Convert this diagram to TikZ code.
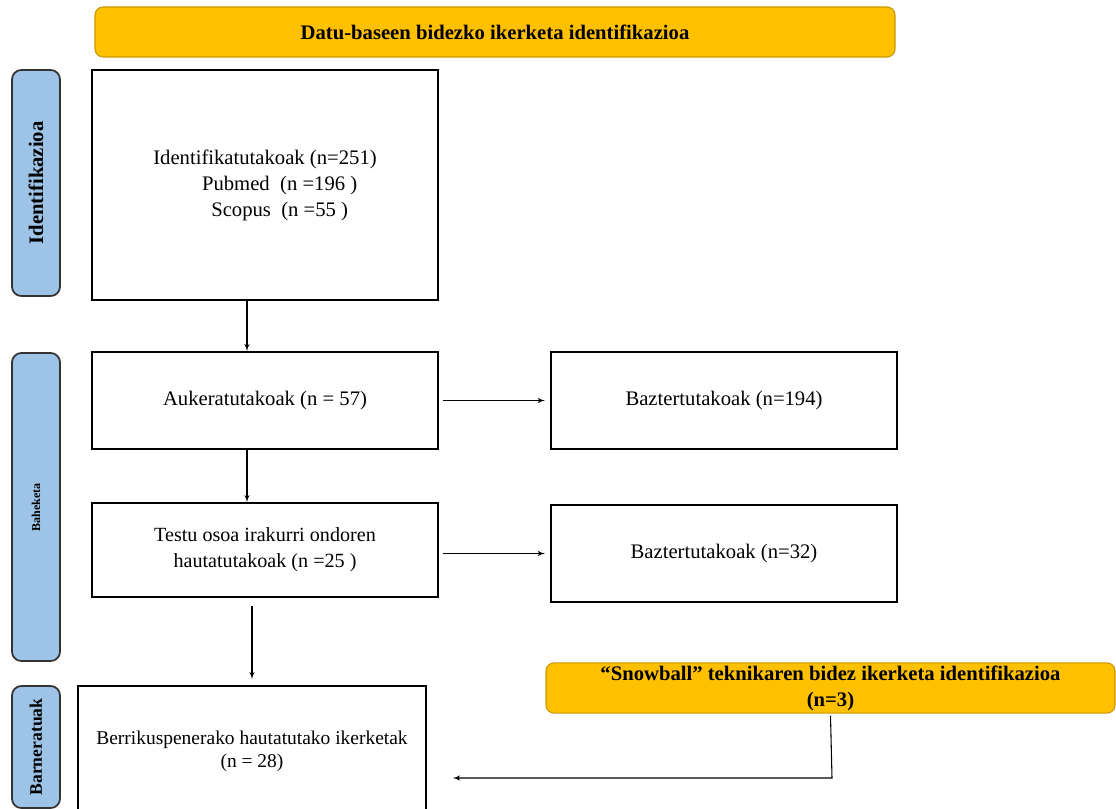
\documentclass[tikz,border=0pt]{standalone}
\usepackage{fontspec}
\setmainfont{Liberation Serif}
\usepackage{xcolor}
\usepackage{tikz}
\usetikzlibrary{positioning}
\usetikzlibrary{arrows}
\definecolor{headorange}{HTML}{FFC000}
\definecolor{headline}{HTML}{C99700}
\definecolor{sideblue}{HTML}{9DC3E6}
\tikzset{edge/.style = {->,> = latex', line width=0.8pt}}

\begin{document}
\begin{tikzpicture}[x=0.75pt,y=-0.75pt,
    main node/.style={rectangle,draw,line width=1.3pt,align=center,inner sep=2pt,
        font=\fontsize{15.5}{19.5}\selectfont},
    head node/.style={rectangle,rounded corners=6pt,draw=headline,fill=headorange,line width=0.8pt,
        align=center,inner sep=2pt,font=\bfseries\fontsize{15.5}{19.5}\selectfont},
    side node/.style={rectangle,rounded corners=7pt,draw=black!80,fill=sideblue,line width=1.3pt,
        rotate=90,minimum height=36pt,inner sep=0pt,font=\bfseries}]
            \useasboundingbox (0,0) rectangle (1116,809);
            \clip (0,0) rectangle (1116,809);

            % phases at the left
            \node[side node,minimum width=169.5pt,font=\bfseries\fontsize{15.5}{19}\selectfont] (ident) at (36,183) {Identifikazioa};
            \node[side node,minimum width=231pt,font=\bfseries\fontsize{9}{11}\selectfont] (bahe) at (36,507) {Baheketa};
            \node[side node,minimum width=91.5pt,font=\bfseries\fontsize{13.2}{16}\selectfont] (barne) at (36,747) {Barneratuak};

            % headers
            \node[head node,minimum width=600pt,minimum height=37.5pt] (datu) at (495,32) {Datu-baseen bidezko ikerketa identifikazioa};
            \node[head node,minimum width=426.75pt,minimum height=37.5pt] (snow) at (830.5,688) {“Snowball” teknikaren bidez ikerketa identifikazioa\\(n=3)};

            % boxes
            \node[main node,minimum width=259.5pt,minimum height=172.5pt] (1) at (265,185)
                {\vspace*{-4pt}Identifikatutakoak (n=251)\\\hspace*{22pt}Pubmed~ (n =196 )\\\hspace*{22pt}Scopus~ (n =55 )};
            \node[main node,minimum width=259.5pt,minimum height=72.75pt] (2) at (265,400.5) {Aukeratutakoak (n = 57)};
            \node[main node,minimum width=259.5pt,minimum height=72.75pt] (3) at (724,400.5) {Baztertutakoak (n=194)};
            \node[main node,minimum width=259.5pt,minimum height=70.5pt,font=\fontsize{15.1}{19.5}\selectfont] (4) at (265,550) {Testu osoa irakurri ondoren\\hautatutakoak (n =25 )};
            \node[main node,minimum width=259.5pt,minimum height=72.75pt] (5) at (724,553.5) {Baztertutakoak (n=32)};
            \node[main node,minimum width=261pt,minimum height=97.5pt,font=\fontsize{14.6}{17}\selectfont] (6) at (252,751) {Berrikuspenerako hautatutako ikerketak\\(n = 28)};

            \coordinate (turn) at (832,778);

            \draw[edge] ([xshift=-13.5pt]1.south) -- ([xshift=-13.5pt]2.north);
            \draw[edge] ([xshift=-13.5pt]2.south) -- ([xshift=-13.5pt]4.north);
            \draw[edge,shorten <=3pt,shorten >=4pt] (2) -- (3);
            \draw[edge,shorten <=3pt,shorten >=4pt] (4.east |- 5.west) -- (5.west);
            \draw[edge,shorten <=6pt,shorten >=4.5pt] (4.south -| 6.north) -- (6.north);
            \draw[edge,shorten >=19.5pt] (snow.south) ++(0,2) -- (turn) -- (turn -| 6.east);
        \end{tikzpicture}
\end{document}
